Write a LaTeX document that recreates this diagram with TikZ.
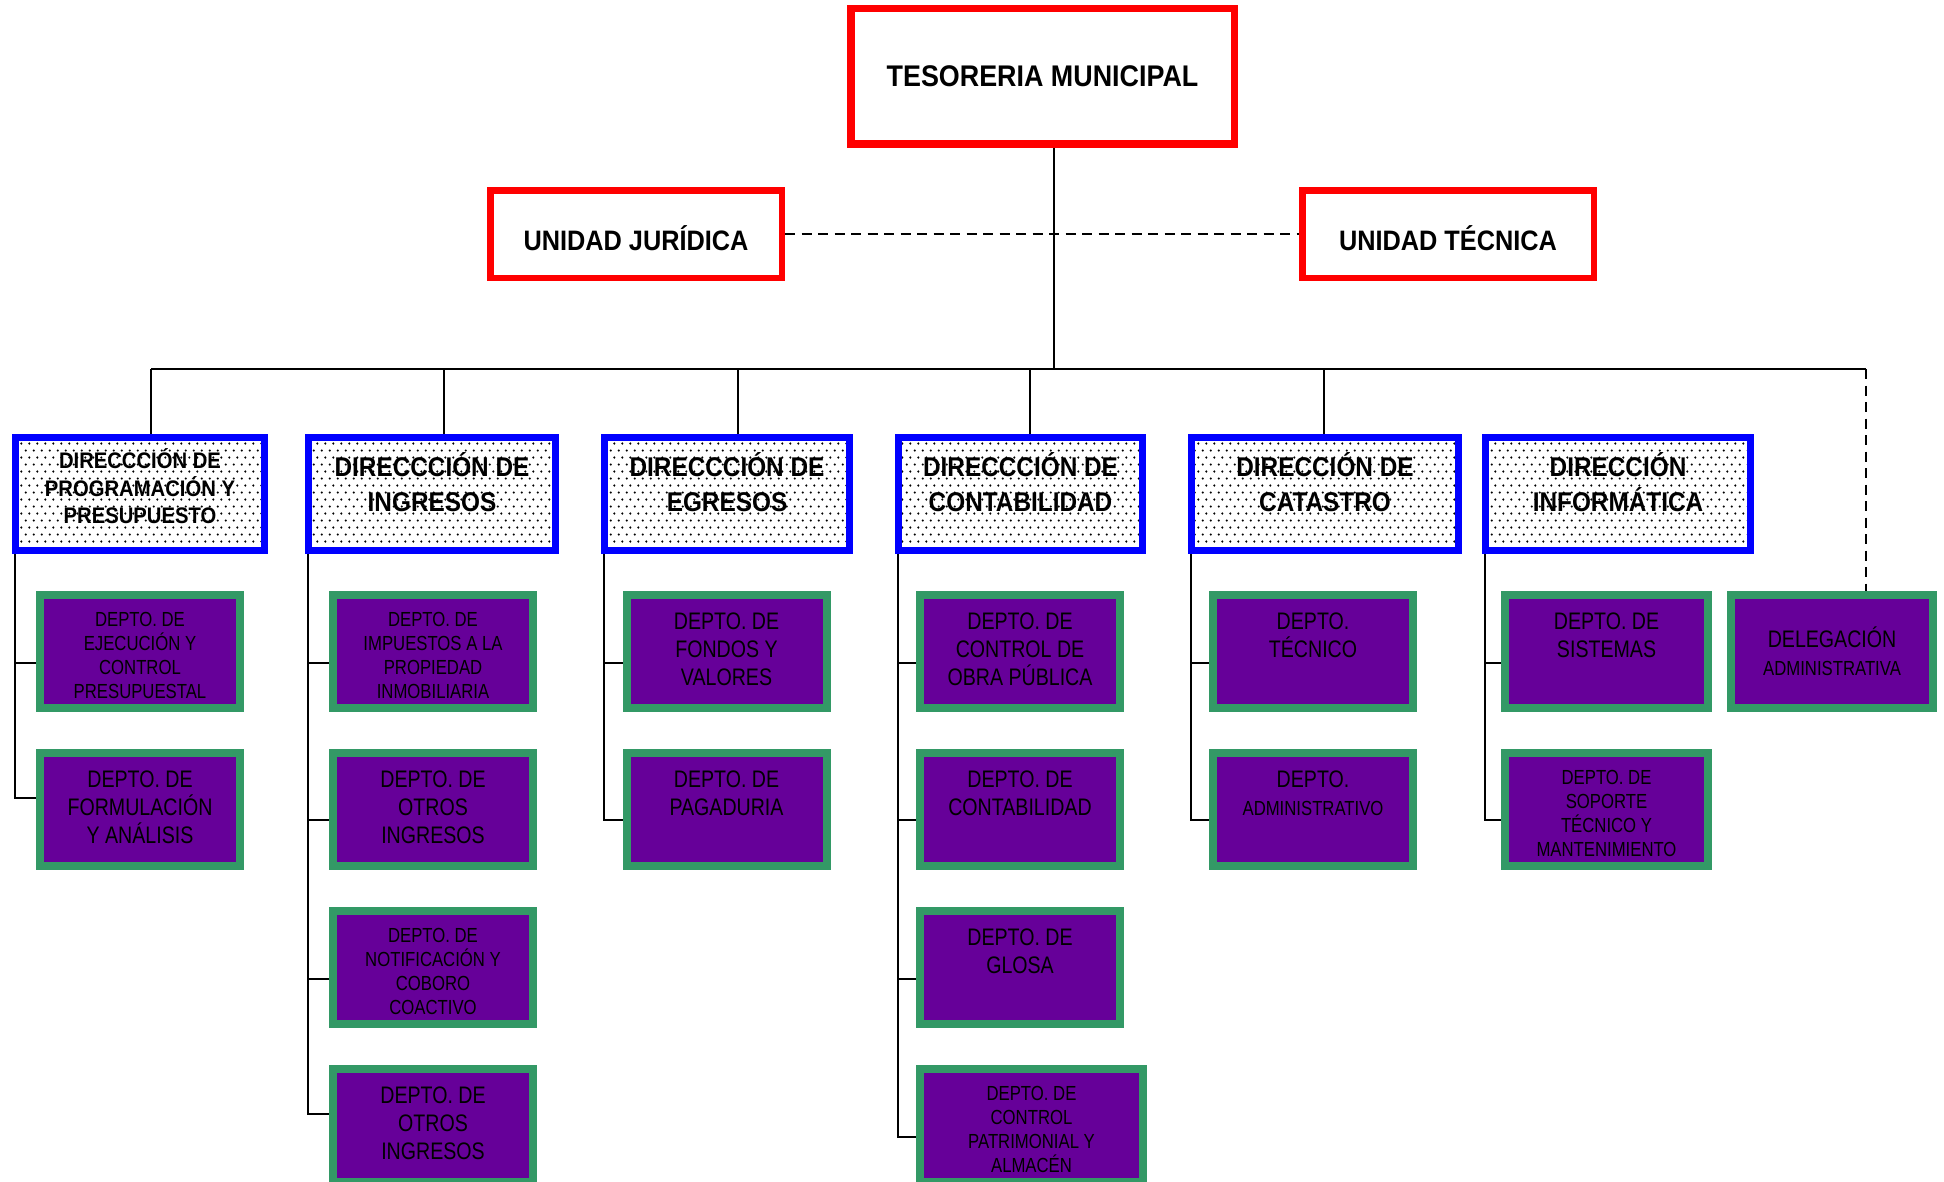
\documentclass[tikz,border=0pt]{standalone}
\usepackage{fontspec}
\setmainfont{Liberation Sans}
\newfontfamily\headfont{Liberation Sans}[FakeStretch=0.9]
\newfontfamily\narrowfont{Liberation Sans}[FakeStretch=0.82]
\usetikzlibrary{patterns.meta}

\definecolor{tesred}{RGB}{255,0,0}
\definecolor{dirblue}{RGB}{0,0,255}
\definecolor{deptgreen}{RGB}{51,153,102}
\definecolor{deptpurple}{RGB}{102,0,153}

\tikzdeclarepattern{
  name=dirdots,
  type=uncolored,
  bottom left={(0pt,0pt)},
  top right={(2.28pt,3.98pt)},
  tile size={(2.28pt,3.98pt)},
  code={
    \fill (0.57pt,0.99pt) circle (0.36pt);
    \fill (1.71pt,2.98pt) circle (0.36pt);
  }
}

\begin{document}
\begin{tikzpicture}[
        link/.style={draw=black, line width=0.5pt},
        dashlink/.style={link, dash pattern=on 0.1cm off 0.065cm},
        toptext/.style 2 args={execute at begin node={\begin{minipage}[c][#1][t]{#2}\centering},
                               execute at end node={\end{minipage}}},
        tesbox/.style={draw=tesred, line width=0.075cm, minimum width=3.835cm, minimum height=1.355cm,
                       font=\headfont\bfseries\fontsize{8.5}{10}\selectfont},
        unitbox/.style={draw=tesred, line width=0.065cm, minimum width=2.915cm, minimum height=0.875cm,
                        text height=0.32cm, text depth=0cm,
                        font=\headfont\bfseries\fontsize{8}{10}\selectfont},
        dirshape/.style={draw=dirblue, line width=0.07cm, pattern=dirdots, pattern color=black,
                         minimum height=1.13cm, inner sep=0pt,
                         font=\headfont\bfseries\fontsize{7.7}{10}\selectfont},
        dirbox/.style={dirshape, toptext={0.83cm}{2.4cm}},
        deptshape/.style={draw=deptgreen, fill=deptpurple, line width=0.08cm, minimum width=2cm,
                          minimum height=1.13cm, inner sep=0pt, font=\narrowfont\fontsize{6.8}{8}\selectfont},
        dept/.style={deptshape, toptext={0.78cm}{1.95cm}},
        deptsmall/.style={font=\narrowfont\fontsize{5.8}{6.8}\selectfont},
        delegbox/.style={deptshape, align=center},
      ]
        \useasboundingbox (0,0) rectangle (19.44,-11.81);

        % Tesoreria and staff units
        \node[tesbox] (tes) at (10.425,-0.765) {TESORERIA MUNICIPAL};
        \node[unitbox] (uj) at (6.36,-2.34) {UNIDAD JURÍDICA};
        \node[unitbox] (ut) at (14.48,-2.34) {UNIDAD TÉCNICA};

        % Direcciones
        \node[dirshape, toptext={0.90cm}{2.4cm}, minimum width=2.49cm,
              font=\headfont\bfseries\fontsize{6.4}{7.7}\selectfont] (dir1) at (1.40,-4.94)
          {DIRECCCIÓN DE\\PROGRAMACIÓN Y\\PRESUPUESTO};
        \node[dirbox, minimum width=2.47cm] (dir2) at (4.32,-4.94) {DIRECCCIÓN DE\\INGRESOS};
        \node[dirbox, minimum width=2.45cm] (dir3) at (7.27,-4.94) {DIRECCCIÓN DE\\EGRESOS};
        \node[dirbox, minimum width=2.44cm] (dir4) at (10.205,-4.94) {DIRECCCIÓN DE\\CONTABILIDAD};
        \node[dirbox, minimum width=2.67cm] (dir5) at (13.25,-4.94) {DIRECCIÓN DE\\CATASTRO};
        \node[dirbox, minimum width=2.65cm] (dir6) at (16.18,-4.94) {DIRECCIÓN\\INFORMÁTICA};

        % Programacion y presupuesto
        \node[dept, deptsmall] (d11) at (1.40,-6.515) {DEPTO. DE\\EJECUCIÓN Y\\CONTROL\\PRESUPUESTAL};
        \node[dept] (d12) at (1.40,-8.095) {DEPTO. DE\\FORMULACIÓN\\Y ANÁLISIS};

        % Ingresos
        \node[dept, deptsmall] (d21) at (4.33,-6.515) {DEPTO. DE\\IMPUESTOS A LA\\PROPIEDAD\\INMOBILIARIA};
        \node[dept] (d22) at (4.33,-8.095) {DEPTO. DE\\OTROS\\INGRESOS};
        \node[dept, deptsmall] (d23) at (4.33,-9.675) {DEPTO. DE\\NOTIFICACIÓN Y\\COBORO\\COACTIVO};
        \node[dept] (d24) at (4.33,-11.255) {DEPTO. DE\\OTROS\\INGRESOS};

        % Egresos
        \node[dept] (d31) at (7.265,-6.515) {DEPTO. DE\\FONDOS Y\\VALORES};
        \node[dept] (d32) at (7.265,-8.095) {DEPTO. DE\\PAGADURIA};

        % Contabilidad
        \node[dept] (d41) at (10.20,-6.515) {DEPTO. DE\\CONTROL DE\\OBRA PÚBLICA};
        \node[dept] (d42) at (10.20,-8.095) {DEPTO. DE\\CONTABILIDAD};
        \node[dept] (d43) at (10.20,-9.675) {DEPTO. DE\\GLOSA};
        \node[dept, deptsmall, minimum width=2.23cm] (d44) at (10.315,-11.255)
          {DEPTO. DE\\CONTROL\\PATRIMONIAL Y\\ALMACÉN};

        % Catastro
        \node[dept] (d51) at (13.13,-6.515) {DEPTO.\\TÉCNICO};
        \node[dept] (d52) at (13.13,-8.095) {DEPTO.\\{\fontsize{5.8}{6.8}\selectfont ADMINISTRATIVO}};

        % Informatica
        \node[dept, minimum width=2.03cm] (d61) at (16.065,-6.515) {DEPTO. DE\\SISTEMAS};
        \node[dept, deptsmall, minimum width=2.03cm] (d62) at (16.065,-8.095)
          {DEPTO. DE\\SOPORTE\\TÉCNICO Y\\MANTENIMIENTO};

        % Delegacion (hangs from the bus, dashed)
        \node[delegbox, minimum width=2.02cm] (deleg) at (18.32,-6.515)
          {DELEGACIÓN\\{\fontsize{5.8}{6.8}\selectfont ADMINISTRATIVA}};

        % Trunk, bus and drops
        \coordinate (bus) at (0,-3.69);
        \coordinate (trunk) at ([xshift=0.115cm]tes.south);
        \coordinate (delegtop) at ([xshift=0.34cm]deleg.north);
        \foreach \col/\dx in {1/0.11, 2/0.12, 3/0.11, 4/0.095, 5/-0.01} {
          \coordinate (drop\col) at ([xshift=\dx cm]dir\col.north);
          \draw[link] (drop\col) -- (drop\col |- bus);
        }
        \draw[link] (trunk) -- (trunk |- bus);
        \draw[link] (drop1 |- bus) -- (delegtop |- bus);
        \draw[dashlink] (delegtop |- bus) -- (delegtop);
        \draw[dashlink] (uj) -- (ut);

        % Spines from each direccion to its departments
        \foreach \col/\row/\dy in {1/1/-0.115, 1/2/0.115, 2/1/-0.115, 2/2/-0.105, 2/3/-0.115, 2/4/0.115,
                                   3/1/-0.115, 3/2/-0.105, 4/1/-0.115, 4/2/-0.105, 4/3/-0.115, 4/4/-0.115,
                                   5/1/-0.115, 5/2/-0.105, 6/1/-0.115, 6/2/-0.105} {
          \draw[link] ([xshift=0.03cm]dir\col.south west) |- ([yshift=\dy cm]d\col\row.west);
        }
      \end{tikzpicture}
\end{document}
